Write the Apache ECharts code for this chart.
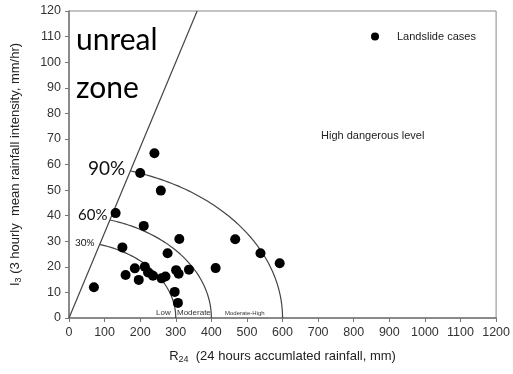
<!DOCTYPE html>
<html><head><meta charset="utf-8">
<script src="https://cdn.jsdelivr.net/npm/echarts@6/dist/echarts.min.js"></script>
<style>html,body{margin:0;padding:0;background:#fff}#c{width:513px;height:374px}</style>
</head><body><div id="c"></div>
<script>
// Landslide cases: [R24 (mm), I3 (mm/hr)]
var caseR24 = [70,131,150,159,185,196,200,210,213,222,236,240,258,260,271,277,297,301,306,308,310,337,412,467,538,592];
var caseI3  = [12,41,27.6,16.8,19.4,14.9,56.7,36,20,17.8,16.5,64.4,49.8,15.5,16.2,25.3,10.2,18.7,5.9,17.3,30.9,18.9,19.5,30.8,25.3,21.4];
// threshold ellipses (x radius, y radius) and labels
var thrLabels = ['30%','60%','90%'];
var thrRx = [300,400,600];
var thrRy = [30,40,60];
// "unreal zone" boundary line: I3 = R24 / 3
var boundR24 = [0,360];
var boundI3 = [0,120];
var xTicks = {min:0,max:1200,interval:100};
var yTicks = {min:0,max:120,interval:10};

function arcPoints(rx, ry){
  var pts = [];
  var tEnd = Math.atan((rx/ry)/3);
  var n = 80;
  for (var i=0;i<=n;i++){
    var t = tEnd*i/n;
    pts.push([rx*Math.cos(t), ry*Math.sin(t)]);
  }
  return pts;
}

var chart = echarts.init(document.getElementById('c'));
var lineStyle = {color:'#444', width:1.2};
var series = [{
  name:'Landslide cases', type:'scatter', symbol:'circle', symbolSize:10,
  itemStyle:{color:'#000', opacity:1},
  data: caseR24.map(function(x,i){return [x, caseI3[i]];}), z:5
},{
  type:'line', showSymbol:false, silent:true, lineStyle:lineStyle,
  data: boundR24.map(function(x,i){return [x, boundI3[i]];})
}];
thrRx.forEach(function(rx,i){
  series.push({type:'line', showSymbol:false, silent:true, lineStyle:lineStyle, data: arcPoints(rx, thrRy[i])});
});

var labFont = '"Liberation Sans", Arial, sans-serif';
chart.setOption({
  animation:false,
  grid:{left:69, right:16, top:11, bottom:56, show:true, borderColor:'#888', borderWidth:1},
  legend:{data:[{name:'Landslide cases', icon:'circle'}], left:366, top:26, itemWidth:8, itemHeight:8,
    itemStyle:{opacity:1},
    textStyle:{fontFamily:labFont, fontSize:11, color:'#222', padding:[0,0,0,13]}},
  xAxis:{type:'value', min:xTicks.min, max:xTicks.max, interval:xTicks.interval,
    splitLine:{show:false},
    axisLine:{lineStyle:{color:'#777', width:1.5}},
    axisTick:{show:true, length:4, lineStyle:{color:'#777'}},
    axisLabel:{fontFamily:labFont, fontSize:12.5, color:'#333', margin:8, formatter:function(v){return String(v);}},
    name:'{a|R}{s|24}{a|  (24 hours accumlated rainfall, mm)}', nameLocation:'middle', nameGap:31,
    nameTextStyle:{rich:{a:{fontFamily:labFont, fontSize:13, color:'#222'}, s:{fontFamily:labFont, fontSize:9, color:'#222', padding:[6,0,0,0]}}}
  },
  yAxis:{type:'value', min:yTicks.min, max:yTicks.max, interval:yTicks.interval,
    splitLine:{show:false},
    axisLine:{lineStyle:{color:'#777', width:1.5}},
    axisTick:{show:true, length:4, lineStyle:{color:'#777'}},
    axisLabel:{fontFamily:labFont, fontSize:12.5, color:'#333', margin:8, formatter:function(v){return String(v);}},
    name:'{a|I}{s|3}{a| (3 hourly  mean rainfall intensity, mm/hr)}', nameLocation:'middle', nameGap:46,
    nameTextStyle:{rich:{a:{fontFamily:labFont, fontSize:13, color:'#222'}, s:{fontFamily:labFont, fontSize:9, color:'#222', padding:[6,0,0,0]}}}
  },
  graphic:[
    {type:'text', left:76, top:25, style:{text:'unreal', font:'30px Lato, "Open Sans", sans-serif', fill:'#000'}},
    {type:'text', left:76, top:73, style:{text:'zone', font:'30px Lato, "Open Sans", sans-serif', fill:'#000'}},
    {type:'text', left:88, top:159, style:{text:'90%', font:'19px Lato, "Open Sans", sans-serif', fill:'#111'}},
    {type:'text', left:78, top:208, style:{text:'60%', font:'15px Lato, "Open Sans", sans-serif', fill:'#111'}},
    {type:'text', left:75, top:238, style:{text:'30%', font:'10px Lato, "Open Sans", sans-serif', fill:'#111'}},
    {type:'text', left:156, top:309, style:{text:'Low', font:'8px "Liberation Sans", Arial, sans-serif', fill:'#333'}},
    {type:'text', left:177, top:309, style:{text:'Moderate', font:'8px "Liberation Sans", Arial, sans-serif', fill:'#333'}},
    {type:'text', left:225, top:310, style:{text:'Moderate-High', font:'6px "Liberation Sans", Arial, sans-serif', fill:'#333'}},
    {type:'text', left:321, top:130, style:{text:'High dangerous level', font:'11px "Liberation Sans", Arial, sans-serif', fill:'#222'}}
  ],
  series: series
});
</script></body></html>
